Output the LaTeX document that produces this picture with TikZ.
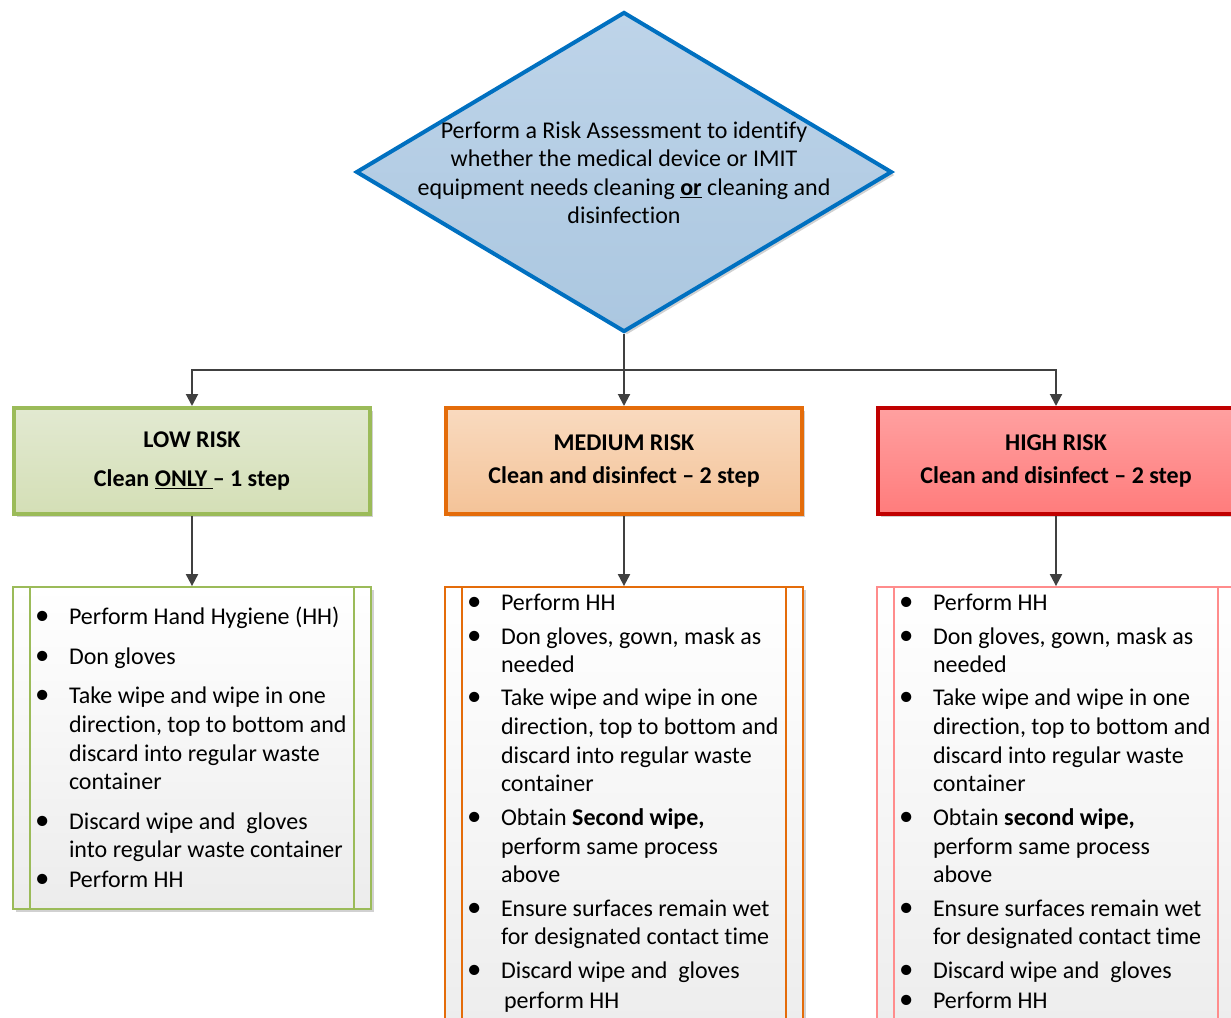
\documentclass[tikz,border=0pt]{standalone}
\usepackage{fontspec}
\setmainfont{Carlito}[Ligatures={TeX,NoCommon}]
\usetikzlibrary{shapes.geometric,arrows.meta,shadows}
\definecolor{diatop}{HTML}{BED4E9}
\definecolor{diabot}{HTML}{ABC7E0}
\definecolor{dialine}{HTML}{0070C0}
\definecolor{lowtop}{HTML}{E2E9D1}
\definecolor{lowbot}{HTML}{D4DFB6}
\definecolor{lowline}{HTML}{9BBB59}
\definecolor{medtop}{HTML}{F9DABF}
\definecolor{medbot}{HTML}{F4C398}
\definecolor{medline}{HTML}{E46C0A}
\definecolor{hightop}{HTML}{FFA0A0}
\definecolor{highbot}{HTML}{FF7C7C}
\definecolor{highline}{HTML}{C00000}
\definecolor{highlist}{HTML}{FF8C8C}
\definecolor{listbot}{HTML}{ECECEC}
\definecolor{arrowgray}{HTML}{404040}
\newcommand\bul{\makebox[34pt][l]{\raisebox{0pt}{\scalebox{1.2}{•}}}}
\begin{document}
\begin{tikzpicture}[x=1pt,y=-1pt,
  txt/.style={font=\fontsize{24}{29}\selectfont},
  conn/.style={draw=arrowgray, line width=2pt, -{Triangle[length=12pt,width=12pt]}},
  shad/.style={drop shadow={shadow xshift=3pt, shadow yshift=-3pt, opacity=0.18, fill=black}},
  hdr/.style={shad, minimum width=356pt, minimum height=106pt, line width=4pt, inner sep=0pt, align=center, font=\fontsize{24}{29}\selectfont\bfseries},
  lst/.style={shad, minimum width=358pt, line width=1.8pt, top color=white, bottom color=listbot, inner sep=0pt},
  ln/.style={txt, anchor=base west, inner sep=0pt, outer sep=0pt},
]
\useasboundingbox (0,0) rectangle (1231,1017);
\begin{scope}
\clip (0,0) rectangle (1231,1017);
% decision diamond
\node[diamond, shad, draw=dialine, line width=4pt, top color=diatop, bottom color=diabot,
      minimum width=536pt, minimum height=320pt, inner sep=0pt] (risk) at (624,172) {};
\node[txt, align=center, font=\fontsize{24}{28.5}\selectfont] (risktext) at (624,173)
  {Perform a Risk Assessment to identify\\ whether the medical device or IMIT\\ equipment needs cleaning \textbf{\underline{or}} cleaning and\\ disinfection};
% headers
\node[hdr, draw=lowline, top color=lowtop, bottom color=lowbot] (low) at (192,461)
  {LOW RISK\\[10pt] Clean \underline{ONLY\ }– 1 step};
\node[hdr, draw=medline, top color=medtop, bottom color=medbot] (med) at (624,461)
  {MEDIUM RISK\\[4pt] Clean and disinfect – 2 step};
\node[hdr, draw=highline, top color=hightop, bottom color=highbot] (high) at (1056,461)
  {HIGH RISK\\[4pt] Clean and disinfect – 2 step};
% list boxes
\node[lst, draw=lowline, minimum height=322pt] (lowlist) at (192,748) {};
\node[lst, draw=medline, minimum height=460pt] (medlist) at (624,817) {};
\node[lst, draw=highlist, minimum height=460pt] (highlist) at (1056,817) {};
\draw[lowline, line width=1.8pt] ([xshift=18pt]lowlist.north west) -- ([xshift=18pt]lowlist.south west);
\draw[lowline, line width=1.8pt] ([xshift=-18pt]lowlist.north east) -- ([xshift=-18pt]lowlist.south east);
\draw[medline, line width=1.8pt] ([xshift=18pt]medlist.north west) -- ([xshift=18pt]medlist.south west);
\draw[medline, line width=1.8pt] ([xshift=-18pt]medlist.north east) -- ([xshift=-18pt]medlist.south east);
\draw[highlist, line width=1.8pt] ([xshift=18pt]highlist.north west) -- ([xshift=18pt]highlist.south west);
\draw[highlist, line width=1.8pt] ([xshift=-18pt]highlist.north east) -- ([xshift=-18pt]highlist.south east);
% connectors
\draw[conn] (risk.south) -- ++(0,36) -| (low.north);
\draw[conn] (risk.south) -- (med.north);
\draw[conn] (risk.south) -- ++(0,36) -| (high.north);
\draw[conn] (low.south) -- (lowlist.north);
\draw[conn] (med.south) -- (medlist.north);
\draw[conn] (high.south) -- (highlist.north);
% low list
\node[ln] (l1) at (35,624) {\bul Perform Hand Hygiene (HH)};
\node[ln] (l2) at (35,664) {\bul Don gloves};
\node[ln] (l3) at (35,703) {\bul Take wipe and wipe in one};
\node[ln] (l4) at (69,732) {direction, top to bottom and};
\node[ln] (l5) at (69,761) {discard into regular waste};
\node[ln] (l6) at (69,789) {container};
\node[ln] (l7) at (35,829) {\bul Discard wipe and~ gloves};
\node[ln] (l8) at (69,857) {into regular waste container};
\node[ln] (l9) at (35,887) {\bul Perform HH};
% medium list
\node[ln] (m1) at (467,610) {\bul Perform HH};
\node[ln] (m2) at (467,644) {\bul Don gloves, gown, mask as};
\node[ln] (m3) at (501,672) {needed};
\node[ln] (m4) at (467,705) {\bul Take wipe and wipe in one};
\node[ln] (m5) at (501,734) {direction, top to bottom and};
\node[ln] (m6) at (501,763) {discard into regular waste};
\node[ln] (m7) at (501,791) {container};
\node[ln] (m8) at (467,825) {\bul Obtain \textbf{Second wipe,}};
\node[ln] (m9) at (501,854) {perform same process};
\node[ln] (m10) at (501,882) {above};
\node[ln] (m11) at (467,916) {\bul Ensure surfaces remain wet};
\node[ln] (m12) at (501,944) {for designated contact time};
\node[ln] (m13) at (467,978) {\bul Discard wipe and~ gloves};
\node[ln] (m14) at (504,1008) {perform HH};
% high list
\node[ln] (h1) at (899,610) {\bul Perform HH};
\node[ln] (h2) at (899,644) {\bul Don gloves, gown, mask as};
\node[ln] (h3) at (933,672) {needed};
\node[ln] (h4) at (899,705) {\bul Take wipe and wipe in one};
\node[ln] (h5) at (933,734) {direction, top to bottom and};
\node[ln] (h6) at (933,763) {discard into regular waste};
\node[ln] (h7) at (933,791) {container};
\node[ln] (h8) at (899,825) {\bul Obtain \textbf{second wipe,}};
\node[ln] (h9) at (933,854) {perform same process};
\node[ln] (h10) at (933,882) {above};
\node[ln] (h11) at (899,916) {\bul Ensure surfaces remain wet};
\node[ln] (h12) at (933,944) {for designated contact time};
\node[ln] (h13) at (899,978) {\bul Discard wipe and~ gloves};
\node[ln] (h14) at (899,1008) {\bul Perform HH};
\end{scope}
\end{tikzpicture}
\end{document}
